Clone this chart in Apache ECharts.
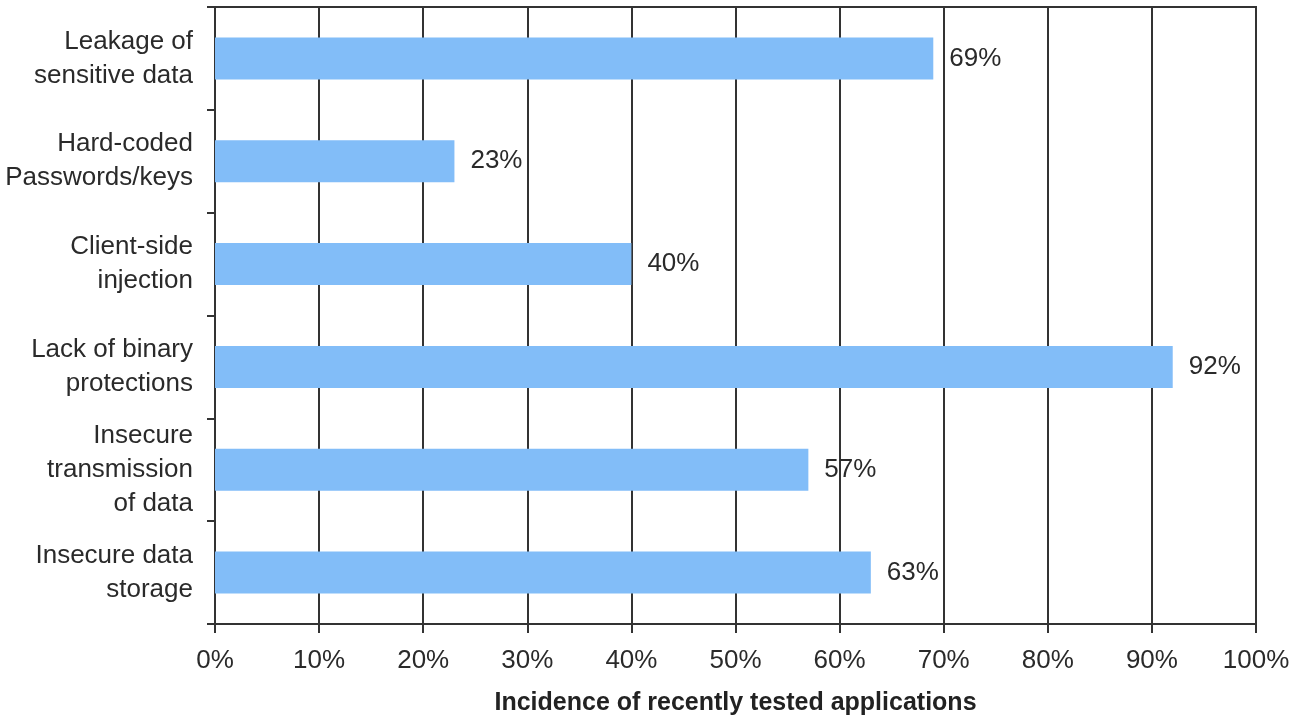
<!DOCTYPE html>
<html>
<head>
<meta charset="utf-8">
<script src="https://cdn.jsdelivr.net/npm/echarts@6/dist/echarts.min.js"></script>
<style>
html,body{margin:0;padding:0;background:#fff;}
#chart{width:1298px;height:721px;}
</style>
</head>
<body>
<div id="chart"></div>
<script>
const categories = [
  "Leakage of\nsensitive data",
  "Hard-coded\nPasswords/keys",
  "Client-side\ninjection",
  "Lack of binary\nprotections",
  "Insecure\ntransmission\nof data",
  "Insecure data\nstorage"
];
const incidence = [69, 23, 40, 92, 57, 63];
const xTicks = [0, 10, 20, 30, 40, 50, 60, 70, 80, 90, 100];
const axisTitle = "Incidence of recently tested applications";

const FONT = "'Liberation Sans Narrow', 'Liberation Sans', Arial, sans-serif";
const chart = echarts.init(document.getElementById('chart'), null, {renderer: 'canvas'});
chart.setOption({
  animation: false,
  backgroundColor: '#ffffff',
  grid: {left: 215, right: 42, top: 7, bottom: 97, show: true, borderColor: '#333', borderWidth: 2, containLabel: false, outerBoundsMode: 'none'},
  xAxis: {
    type: 'value',
    min: xTicks[0],
    max: xTicks[xTicks.length - 1],
    interval: 10,
    name: axisTitle,
    nameLocation: 'middle',
    nameGap: 67,
    nameTextStyle: {fontFamily: FONT, fontWeight: 'bold', fontSize: 25, color: '#222'},
    axisLine: {show: true, lineStyle: {color: '#333', width: 2}},
    axisTick: {show: true, length: 9, lineStyle: {color: '#333', width: 2}},
    axisLabel: {formatter: '{value}%', fontFamily: FONT, fontSize: 26, color: '#2a2a2a', margin: 24},
    splitLine: {show: true, lineStyle: {color: '#333', width: 2}}
  },
  yAxis: {
    type: 'category',
    data: categories,
    inverse: true,
    axisLine: {show: true, lineStyle: {color: '#333', width: 2}},
    axisTick: {show: true, length: 8, lineStyle: {color: '#333', width: 2}},
    axisLabel: {fontFamily: FONT, fontSize: 26, color: '#2a2a2a', margin: 22, lineHeight: 34, align: 'right'},
    splitLine: {show: false}
  },
  series: [{
    type: 'bar',
    data: incidence,
    barWidth: 42,
    itemStyle: {color: '#82bdf8'},
    label: {show: true, position: 'right', distance: 16, formatter: '{c}%', fontFamily: FONT, fontSize: 26, color: '#2a2a2a'}
  }]
});
</script>
</body>
</html>
